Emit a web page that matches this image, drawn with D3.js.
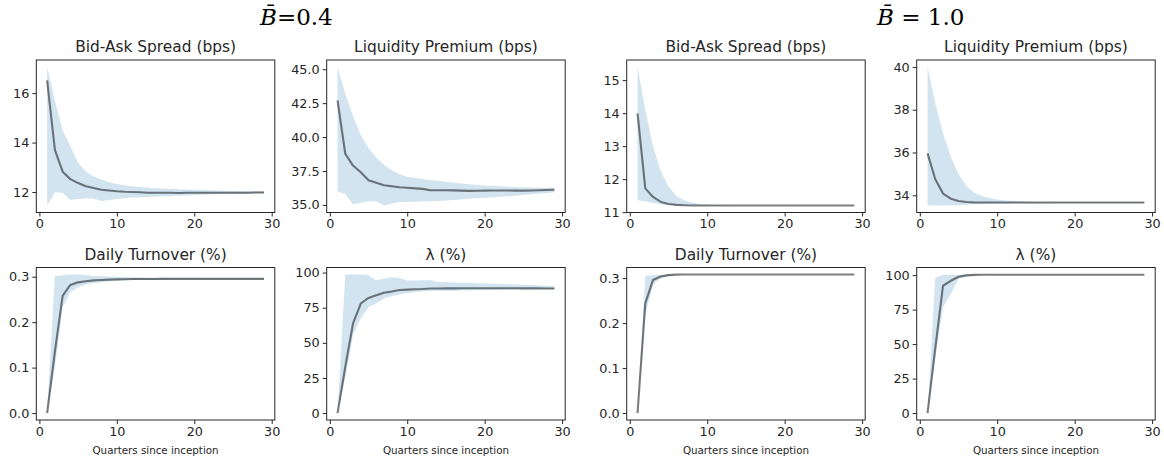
<!DOCTYPE html>
<html>
<head>
<meta charset="utf-8">
<script src="https://cdn.jsdelivr.net/npm/d3@7"></script>
<style>
  body { margin: 0; background: #fff; }
  svg { display: block; }
</style>
</head>
<body>
<div id="chart"></div>
<script>
// quarters since inception (x values)
var quarters = [1, 2, 3, 4, 5, 6, 7, 8, 9, 10, 11, 12, 13, 14, 15, 16, 17, 18, 19, 20, 21, 22, 23, 24, 25, 26, 27, 28, 29];
var xTicks = [0, 10, 20, 30];

// B = 0.4, bid-ask spread
var spread04Mean = [16.52, 13.70, 12.82, 12.52, 12.36, 12.23, 12.16, 12.09, 12.06, 12.03, 12.01, 12.00, 11.99, 11.97, 11.97, 11.97, 11.97, 11.96, 11.97, 11.97, 11.97, 11.97, 11.97, 11.97, 11.97, 11.97, 11.97, 11.98, 11.98];
var spread04Hi = [17.06, 15.70, 14.50, 13.85, 13.17, 12.83, 12.63, 12.50, 12.39, 12.32, 12.27, 12.23, 12.20, 12.17, 12.15, 12.14, 12.12, 12.11, 12.10, 12.09, 12.08, 12.07, 12.06, 12.05, 12.04, 12.04, 12.03, 12.03, 12.03];
var spread04Lo = [11.45, 11.99, 11.97, 11.68, 11.72, 11.75, 11.73, 11.63, 11.68, 11.72, 11.75, 11.78, 11.79, 11.80, 11.82, 11.83, 11.84, 11.85, 11.86, 11.88, 11.89, 11.90, 11.91, 11.92, 11.93, 11.93, 11.94, 11.95, 11.95];
var spread04Ticks = [12, 14, 16];

// B = 0.4, liquidity premium
var lp04Mean = [42.70, 38.77, 37.90, 37.40, 36.82, 36.63, 36.45, 36.38, 36.30, 36.26, 36.22, 36.18, 36.08, 36.08, 36.08, 36.07, 36.05, 36.03, 36.04, 36.05, 36.06, 36.06, 36.06, 36.05, 36.05, 36.06, 36.08, 36.10, 36.12];
var lp04Hi = [45.17, 43.20, 41.55, 40.15, 39.20, 38.50, 37.95, 37.55, 37.25, 37.08, 36.98, 36.90, 36.84, 36.78, 36.70, 36.63, 36.57, 36.52, 36.47, 36.43, 36.40, 36.37, 36.34, 36.32, 36.30, 36.28, 36.27, 36.26, 36.26];
var lp04Lo = [36.00, 35.80, 35.02, 35.15, 35.27, 35.26, 34.95, 35.10, 35.21, 35.22, 35.24, 35.25, 35.27, 35.29, 35.32, 35.36, 35.40, 35.45, 35.49, 35.52, 35.56, 35.60, 35.64, 35.68, 35.73, 35.78, 35.83, 35.88, 35.93];
var lp04Ticks = [35, 37.5, 40, 42.5, 45];

// B = 1.0, bid-ask spread
var spread10Mean = [13.99, 11.72, 11.46, 11.31, 11.25, 11.22, 11.21, 11.20, 11.20, 11.20, 11.20, 11.20, 11.20, 11.20, 11.20, 11.20, 11.20, 11.20, 11.20, 11.20, 11.20, 11.20, 11.20, 11.20, 11.20, 11.20, 11.20, 11.20, 11.20];
var spread10Hi = [15.40, 14.10, 13.00, 12.25, 11.78, 11.50, 11.36, 11.29, 11.25, 11.23, 11.22, 11.21, 11.21, 11.20, 11.20, 11.20, 11.20, 11.20, 11.20, 11.20, 11.20, 11.20, 11.20, 11.20, 11.20, 11.20, 11.20, 11.20, 11.20];
var spread10Lo = [11.36, 11.33, 11.28, 11.24, 11.22, 11.21, 11.20, 11.20, 11.20, 11.20, 11.20, 11.20, 11.20, 11.20, 11.20, 11.20, 11.20, 11.20, 11.20, 11.20, 11.20, 11.20, 11.20, 11.20, 11.20, 11.20, 11.20, 11.20, 11.20];
var spread10Ticks = [11, 12, 13, 14, 15];

// B = 1.0, liquidity premium
var lp10Mean = [35.96, 34.75, 34.08, 33.84, 33.73, 33.69, 33.67, 33.66, 33.66, 33.66, 33.66, 33.66, 33.66, 33.66, 33.66, 33.66, 33.66, 33.66, 33.66, 33.66, 33.66, 33.66, 33.66, 33.66, 33.66, 33.66, 33.66, 33.66, 33.66];
var lp10Hi = [40.00, 38.30, 36.90, 35.80, 35.00, 34.45, 34.13, 33.97, 33.87, 33.80, 33.76, 33.73, 33.71, 33.70, 33.69, 33.68, 33.68, 33.67, 33.67, 33.67, 33.67, 33.67, 33.67, 33.67, 33.67, 33.67, 33.67, 33.67, 33.67];
var lp10Lo = [33.53, 33.52, 33.52, 33.52, 33.54, 33.56, 33.58, 33.59, 33.60, 33.61, 33.61, 33.62, 33.62, 33.62, 33.62, 33.62, 33.62, 33.63, 33.63, 33.63, 33.63, 33.63, 33.63, 33.63, 33.63, 33.63, 33.63, 33.63, 33.63];
var lp10Ticks = [34, 36, 38, 40];

// B = 0.4, daily turnover
var turn04Mean = [0.000, 0.135, 0.258, 0.282, 0.2876, 0.290, 0.292, 0.2927, 0.2935, 0.2942, 0.2945, 0.2948, 0.295, 0.295, 0.295, 0.2952, 0.2952, 0.2952, 0.2952, 0.2952, 0.2952, 0.2952, 0.2952, 0.2952, 0.2952, 0.2952, 0.2952, 0.2952, 0.2952];
var turn04Hi = [0.000, 0.3015, 0.303, 0.305, 0.305, 0.304, 0.3015, 0.301, 0.3005, 0.300, 0.2995, 0.299, 0.2988, 0.2985, 0.298, 0.298, 0.2978, 0.2977, 0.2976, 0.2975, 0.2974, 0.2973, 0.2972, 0.2971, 0.297, 0.297, 0.297, 0.297, 0.297];
var turn04Lo = [0.000, 0.100, 0.233, 0.266, 0.277, 0.283, 0.286, 0.288, 0.290, 0.291, 0.292, 0.2925, 0.293, 0.293, 0.2935, 0.2935, 0.2937, 0.2938, 0.2939, 0.294, 0.294, 0.294, 0.294, 0.294, 0.294, 0.294, 0.294, 0.294, 0.294];
var turnTicks = [0, 0.1, 0.2, 0.3];

// B = 0.4, lambda
var lam04Mean = [0, 33, 63.8, 78, 82, 83.8, 85.7, 86.5, 87.6, 87.9, 88.2, 88.3, 88.7, 88.7, 88.8, 88.8, 88.9, 88.9, 88.9, 88.9, 88.9, 88.9, 88.9, 88.9, 88.8, 88.8, 88.8, 88.7, 88.7];
var lam04Hi = [0, 98.6, 98.6, 98.7, 98.2, 94.5, 95.7, 96.7, 96.2, 94.3, 94.4, 94.5, 94.6, 93.4, 93.2, 93.0, 92.8, 92.7, 92.5, 92.2, 92.0, 91.8, 91.7, 91.5, 91.3, 91.1, 90.9, 90.7, 90.5];
var lam04Lo = [0, 25, 55.5, 67.4, 75.6, 78, 81.6, 83.4, 84.4, 85.5, 86.1, 86.7, 86.9, 87.0, 87.0, 87.1, 87.2, 87.3, 87.4, 87.5, 87.6, 87.7, 87.8, 87.9, 88.0, 88.0, 88.1, 88.2, 88.2];
var lamTicks = [0, 25, 50, 75, 100];

// B = 1.0, daily turnover
var turn10Mean = [0, 0.244, 0.296, 0.3037, 0.3066, 0.3078, 0.308, 0.308, 0.308, 0.308, 0.308, 0.308, 0.308, 0.308, 0.308, 0.308, 0.308, 0.308, 0.308, 0.308, 0.308, 0.308, 0.308, 0.308, 0.308, 0.308, 0.308, 0.308, 0.308];
var turn10Hi = [0, 0.305, 0.3066, 0.3075, 0.308, 0.3082, 0.3082, 0.3082, 0.3082, 0.3082, 0.3082, 0.3082, 0.3082, 0.3082, 0.3082, 0.3082, 0.3082, 0.3082, 0.3082, 0.3082, 0.3082, 0.3082, 0.3082, 0.3082, 0.3082, 0.3082, 0.3082, 0.3082, 0.3082];
var turn10Lo = [0, 0.22, 0.285, 0.300, 0.305, 0.307, 0.3078, 0.308, 0.308, 0.308, 0.308, 0.308, 0.308, 0.308, 0.308, 0.308, 0.308, 0.308, 0.308, 0.308, 0.308, 0.308, 0.308, 0.308, 0.308, 0.308, 0.308, 0.308, 0.308];

// B = 1.0, lambda
var lam10Mean = [0, 47, 92.3, 95.9, 98.8, 99.8, 100.2, 100.3, 100.3, 100.3, 100.3, 100.3, 100.3, 100.3, 100.3, 100.3, 100.3, 100.3, 100.3, 100.3, 100.3, 100.3, 100.3, 100.3, 100.3, 100.3, 100.3, 100.3, 100.3];
var lam10Hi = [0, 98.3, 100, 100.2, 100.3, 100.4, 100.5, 100.5, 100.5, 100.5, 100.5, 100.5, 100.5, 100.5, 100.5, 100.5, 100.5, 100.5, 100.5, 100.5, 100.5, 100.5, 100.5, 100.5, 100.5, 100.5, 100.5, 100.5, 100.5];
var lam10Lo = [0, 40, 76.7, 86.3, 97.1, 99.0, 99.8, 100.1, 100.2, 100.2, 100.2, 100.2, 100.2, 100.2, 100.2, 100.2, 100.2, 100.2, 100.2, 100.2, 100.2, 100.2, 100.2, 100.2, 100.2, 100.2, 100.2, 100.2, 100.2];

var panels = [
    { col: 0, row: 0, title: "Bid-Ask Spread (bps)", mean: spread04Mean, lo: spread04Lo, hi: spread04Hi, ticks: spread04Ticks, fmt: "d" },
    { col: 1, row: 0, title: "Liquidity Premium (bps)", mean: lp04Mean, lo: lp04Lo, hi: lp04Hi, ticks: lp04Ticks, fmt: ".1f" },
    { col: 2, row: 0, title: "Bid-Ask Spread (bps)", mean: spread10Mean, lo: spread10Lo, hi: spread10Hi, ticks: spread10Ticks, fmt: "d" },
    { col: 3, row: 0, title: "Liquidity Premium (bps)", mean: lp10Mean, lo: lp10Lo, hi: lp10Hi, ticks: lp10Ticks, fmt: "d" },
    { col: 0, row: 1, title: "Daily Turnover (%)", mean: turn04Mean, lo: turn04Lo, hi: turn04Hi, ticks: turnTicks, fmt: ".1f" },
    { col: 1, row: 1, title: "\u03bb (%)", mean: lam04Mean, lo: lam04Lo, hi: lam04Hi, ticks: lamTicks, fmt: "d" },
    { col: 2, row: 1, title: "Daily Turnover (%)", mean: turn10Mean, lo: turn10Lo, hi: turn10Hi, ticks: turnTicks, fmt: ".1f" },
    { col: 3, row: 1, title: "\u03bb (%)", mean: lam10Mean, lo: lam10Lo, hi: lam10Hi, ticks: lamTicks, fmt: "d" }
];

var W = 1164, H = 459;
var colLefts = [36.3, 326.7, 626.7, 916.7];
var rowTops = [60, 267.5];
var pw = 238.5, ph = 152.5;
var font = "DejaVu Sans, Liberation Sans, sans-serif";
var textCol = "#262626";

var svg = d3.select("#chart").append("svg")
    .attr("width", W)
    .attr("height", H);

panels.forEach(function (p) {
    var g = svg.append("g")
        .attr("transform", "translate(" + colLefts[p.col] + "," + rowTops[p.row] + ")");

    // matplotlib style autoscale: 5% margins
    var x = d3.scaleLinear()
        .domain([quarters[0] - 0.05 * (quarters[quarters.length - 1] - quarters[0]),
                 quarters[quarters.length - 1] + 0.05 * (quarters[quarters.length - 1] - quarters[0])])
        .range([0, pw]);
    var all = p.mean.concat(p.lo, p.hi);
    var ext = d3.extent(all);
    var pad = (ext[1] - ext[0]) * 0.05;
    var y = d3.scaleLinear()
        .domain([ext[0] - pad, ext[1] + pad])
        .range([ph, 0]);

    var area = d3.area()
        .x(function (d, i) { return x(quarters[i]); })
        .y0(function (d, i) { return y(p.lo[i]); })
        .y1(function (d, i) { return y(p.hi[i]); });

    g.append("path")
        .datum(p.mean)
        .attr("d", area)
        .attr("fill", "#1f77b4")
        .attr("fill-opacity", 0.2);

    var line = d3.line()
        .x(function (d, i) { return x(quarters[i]); })
        .y(function (d) { return y(d); });

    g.append("path")
        .datum(p.mean)
        .attr("d", line)
        .attr("fill", "none")
        .attr("stroke", "#000")
        .attr("stroke-opacity", 0.5)
        .attr("stroke-width", 2.1)
        .attr("stroke-linejoin", "round");

    // axes
    var xAxis = g.append("g")
        .attr("transform", "translate(0," + ph + ")")
        .call(d3.axisBottom(x).tickValues(xTicks).tickSize(4).tickPadding(2.5).tickFormat(d3.format("d")));
    var yAxis = g.append("g")
        .call(d3.axisLeft(y).tickValues(p.ticks).tickSize(4).tickPadding(3).tickFormat(d3.format(p.fmt)));

    [xAxis, yAxis].forEach(function (a) {
        a.select(".domain").remove();
        a.attr("font-family", font).attr("font-size", 12.8);
        a.selectAll("line").attr("stroke", textCol).attr("stroke-width", 1);
        a.selectAll("text").attr("fill", textCol);
    });

    // frame
    g.append("rect")
        .attr("x", 0).attr("y", 0)
        .attr("width", pw).attr("height", ph)
        .attr("fill", "none")
        .attr("stroke", textCol)
        .attr("stroke-width", 1);

    g.append("text")
        .attr("x", pw / 2)
        .attr("y", -7.8)
        .attr("text-anchor", "middle")
        .attr("font-family", font)
        .attr("font-size", 15.4)
        .attr("fill", textCol)
        .text(p.title);

    if (p.row === 1) {
        g.append("text")
            .attr("x", pw / 2)
            .attr("y", ph + 33.5)
            .attr("text-anchor", "middle")
            .attr("font-family", font)
            .attr("font-size", 10.3)
            .attr("fill", textCol)
            .text("Quarters since inception");
    }
});

// super titles for each half
var supTitles = [
    { x: 260, label: "=0.4" },
    { x: 877, label: " = 1.0" }
];
supTitles.forEach(function (s) {
    var t = svg.append("text")
        .attr("x", s.x)
        .attr("y", 25)
        .attr("font-family", "DejaVu Serif, Liberation Serif, serif")
        .attr("font-size", 23)
        .attr("fill", "#000")
        .attr("xml:space", "preserve");
    t.append("tspan").attr("font-style", "italic").text("B\u0304");
    t.append("tspan").text(s.label);
});
</script>
</body>
</html>
